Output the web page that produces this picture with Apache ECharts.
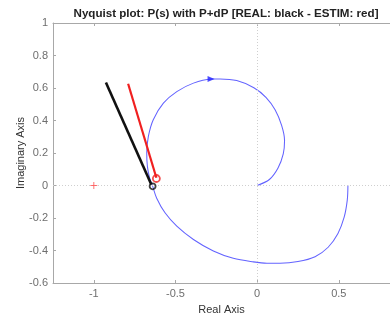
<!DOCTYPE html>
<html><head><meta charset="utf-8">
<script src="https://cdn.jsdelivr.net/npm/echarts@6/dist/echarts.min.js"></script>
<style>html,body{margin:0;padding:0;background:#fff}#c{width:390px;height:320px}</style>
</head><body><div id="c"></div>
<script>
// Nyquist curve P(s) (positive frequencies, from w=0 at the real axis to the origin)
const nyqRe = [0.556, 0.552, 0.533, 0.495, 0.435, 0.355, 0.25, 0.14, 0.06, -0.023, -0.146, -0.268, -0.39, -0.492, -0.564, -0.615, -0.64, -0.658, -0.672, -0.676, -0.666, -0.636, -0.574, -0.492, -0.39, -0.282, -0.227, -0.125, -0.02, 0.054, 0.11, 0.15, 0.168, 0.16, 0.128, 0.075, 0.0];
const nyqIm = [0.0, -0.09, -0.195, -0.295, -0.38, -0.438, -0.468, -0.478, -0.478, -0.47, -0.448, -0.403, -0.332, -0.25, -0.168, -0.078, -0.004, 0.045, 0.118, 0.2, 0.302, 0.405, 0.507, 0.578, 0.63, 0.655, 0.656, 0.646, 0.602, 0.543, 0.466, 0.37, 0.277, 0.195, 0.108, 0.037, 0.0];
// Direction arrow on the curve
const arrowPt = [-0.282, 0.655];
// REAL (black) segment and point
const realRe = [-0.926, -0.648];
const realIm = [0.634, 0.006];
const realPt = [-0.64, -0.005];
// ESTIM (red) segment and point
const estRe = [-0.79, -0.617];
const estIm = [0.626, 0.048];
const estPt = [-0.617, 0.043];
// Critical point
const critPt = [-1, 0];
// Axes
const xTicks = [-1, -0.5, 0, 0.5];
const xMin = -1.25, xMax = 0.8137, yMin = -0.6, yMax = 1;

const zip = (a, b) => a.map((v, i) => [v, b[i]]);
const axisGray = '#a8a8a8';
const labelGray = '#6e6e6e';
const font = 'Liberation Sans, Arial, sans-serif';
const plus = 'path://M5,0 L5,10 M0,5 L10,5';

const chart = echarts.init(document.getElementById('c'), null, {renderer: 'canvas'});
chart.setOption({
  animation: false,
  title: {
    text: 'Nyquist plot: P(s) with P+dP [REAL: black - ESTIM: red]',
    left: 221, top: 3, textAlign: 'center',
    textStyle: {fontFamily: font, fontSize: 11.6, fontWeight: 'bold', color: '#222'}
  },
  grid: {left: 53, top: 23, width: 337, height: 261, containLabel: false},
  xAxis: [{
    type: 'value', min: xMin, max: xMax, position: 'bottom',
    name: 'Real Axis', nameLocation: 'middle', nameGap: 21, nameMoveOverlap: false,
    nameTextStyle: {fontFamily: font, fontSize: 11, color: '#333'},
    axisLine: {show: true, onZero: false, lineStyle: {color: axisGray, width: 1}},
    axisTick: {inside: true, length: 3, customValues: xTicks, lineStyle: {color: axisGray}},
    axisLabel: {customValues: xTicks, fontFamily: font, fontSize: 11, color: labelGray, margin: 5,
      formatter: v => String(v)},
    splitLine: {show: false}
  }, {
    type: 'value', min: xMin, max: xMax, position: 'top',
    axisLine: {show: true, onZero: false, lineStyle: {color: axisGray, width: 1}},
    axisTick: {inside: true, length: 3, customValues: xTicks, lineStyle: {color: axisGray}},
    axisLabel: {show: false},
    splitLine: {show: false}
  }],
  yAxis: [{
    type: 'value', min: yMin, max: yMax, interval: 0.2,
    name: 'Imaginary Axis', nameLocation: 'middle', nameGap: 27, nameRotate: 90, nameMoveOverlap: false,
    nameTextStyle: {fontFamily: font, fontSize: 11, color: '#333'},
    axisLine: {show: true, onZero: false, lineStyle: {color: axisGray, width: 1}},
    axisTick: {show: true, inside: true, length: 3, lineStyle: {color: axisGray}},
    axisLabel: {fontFamily: font, fontSize: 11, color: labelGray, margin: 5,
      formatter: v => String(Math.round(v * 10) / 10)},
    splitLine: {show: false}
  }],
  series: [
    {
      type: 'line', data: [], silent: true,
      markLine: {
        silent: true, symbol: 'none', label: {show: false},
        lineStyle: {color: '#cfcfcf', type: [1, 2], width: 1},
        data: [{xAxis: 0}, {yAxis: 0}]
      }
    },
    {
      type: 'line', data: zip(nyqRe, nyqIm), showSymbol: false, smooth: 0.33,
      lineStyle: {color: '#6363ff', width: 1.05}, z: 3
    },
    {
      type: 'scatter', data: [arrowPt], symbol: 'triangle', symbolSize: [6, 7], symbolRotate: -90,
      itemStyle: {color: '#2020ff'}, z: 4
    },
    {
      type: 'line', data: zip(realRe, realIm), showSymbol: false,
      lineStyle: {color: '#111', width: 2.6}, z: 5
    },
    {
      type: 'line', data: zip(estRe, estIm), showSymbol: false,
      lineStyle: {color: '#f02020', width: 2.2}, z: 5
    },
    {
      type: 'scatter', data: [realPt], symbol: 'circle', symbolSize: 6,
      itemStyle: {color: 'rgba(0,0,0,0)', borderColor: '#111', borderWidth: 1.8}, z: 6
    },
    {
      type: 'scatter', data: [estPt], symbol: 'circle', symbolSize: 7,
      itemStyle: {color: 'rgba(0,0,0,0)', borderColor: '#f02020', borderWidth: 1.8}, z: 6
    },
    {
      type: 'scatter', data: [critPt], symbol: plus, symbolSize: 7,
      itemStyle: {color: 'none', borderColor: '#ff5050', borderWidth: 1}, z: 6
    }
  ]
});
</script></body></html>
